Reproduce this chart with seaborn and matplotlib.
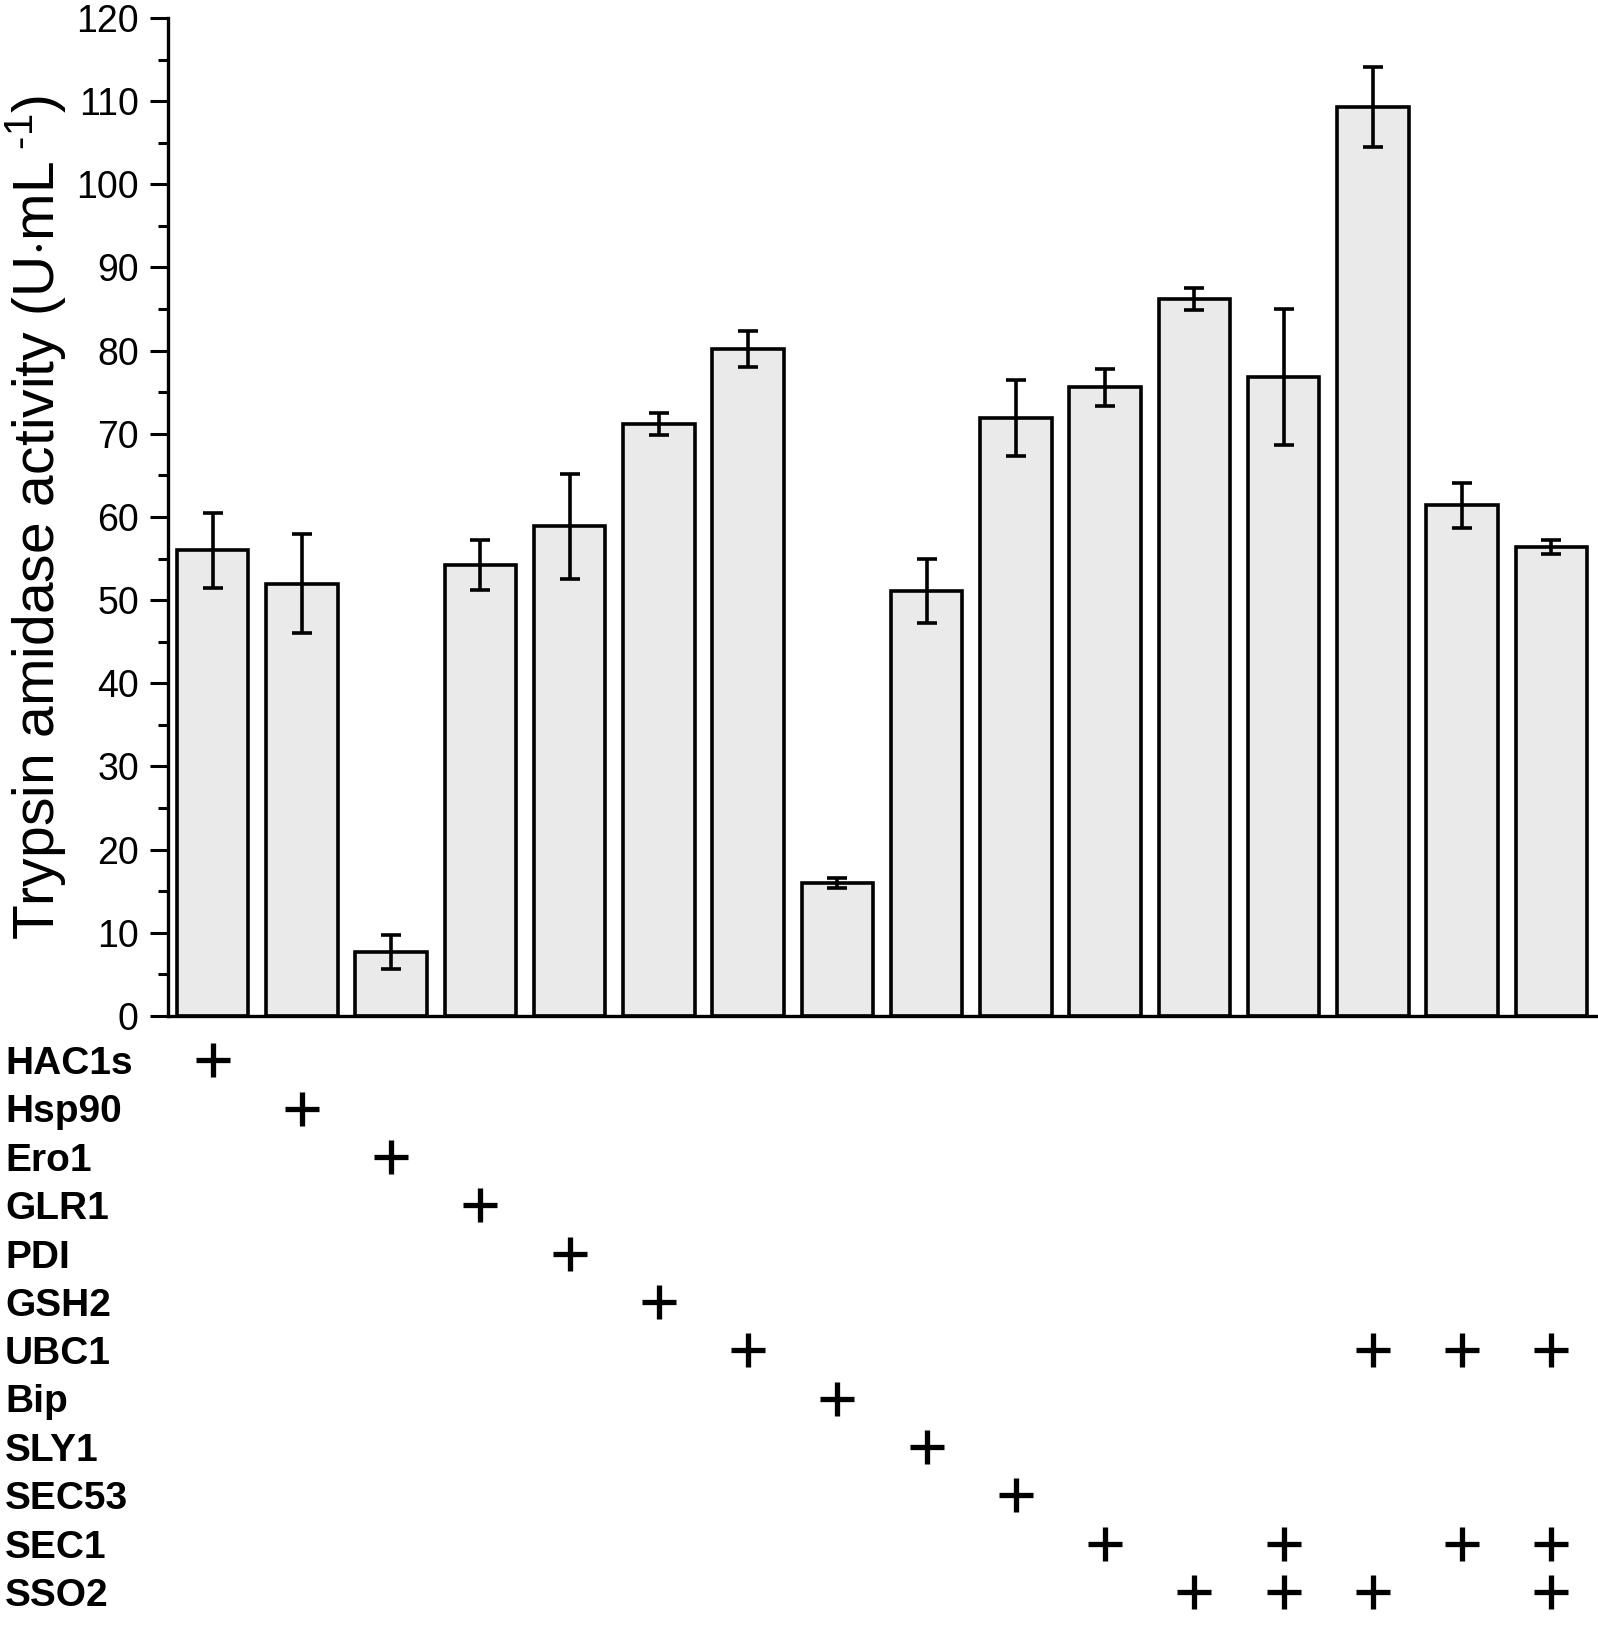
import numpy as np
import pandas as pd
import matplotlib
matplotlib.use('Agg')
import matplotlib.pyplot as plt
import seaborn as sns
from matplotlib.ticker import MultipleLocator

# values
activity = [56.0, 52.0, 7.7, 54.2, 58.9, 71.2, 80.2, 16.0,
            51.1, 71.9, 75.6, 86.2, 76.8, 109.3, 61.4, 56.4]
errors = [4.5, 5.9, 2.0, 3.0, 6.3, 1.3, 2.2, 0.6,
          3.9, 4.6, 2.2, 1.3, 8.2, 4.8, 2.7, 0.8]

genes = ['HAC1s', 'Hsp90', 'Ero1', 'GLR1', 'PDI', 'GSH2', 'UBC1',
         'Bip', 'SLY1', 'SEC53', 'SEC1', 'SSO2']
# which strains (bar index) carry each gene
gene_bars = {
    'HAC1s': [0], 'Hsp90': [1], 'Ero1': [2], 'GLR1': [3], 'PDI': [4],
    'GSH2': [5], 'UBC1': [6, 13, 14, 15], 'Bip': [7], 'SLY1': [8],
    'SEC53': [9], 'SEC1': [10, 12, 14, 15], 'SSO2': [11, 12, 13, 15],
}

sns.set_style('ticks')
plt.rcParams['font.family'] = ['Liberation Sans', 'DejaVu Sans']
plt.rcParams['mathtext.fontset'] = 'custom'
plt.rcParams['mathtext.rm'] = 'Liberation Sans'
plt.rcParams['mathtext.it'] = 'Liberation Sans'
plt.rcParams['text.color'] = 'black'
plt.rcParams['axes.labelcolor'] = 'black'
plt.rcParams['ytick.color'] = 'black'
plt.rcParams['axes.edgecolor'] = 'black'

df = pd.DataFrame({'strain': [str(i) for i in range(len(activity))],
                   'activity': activity, 'err': errors})

W, H = 1598, 1637
fig = plt.figure(figsize=(W / 100, H / 100), dpi=100)
ax = fig.add_axes([168 / W, 1 - 1016 / H, (1596 - 168) / W, (1016 - 18) / H])

sns.barplot(data=df, x='strain', y='activity', color='#eaeaea', saturation=1,
            edgecolor='black', linewidth=2.6, width=0.8, errorbar=None, ax=ax)
ax.errorbar(np.arange(len(activity)), activity, yerr=errors, fmt='none',
            ecolor='black', elinewidth=2.6, capsize=7.5, capthick=2.6)

ax.set_xlim(-0.5, 15.5)
ax.set_ylim(0, 120)
ax.yaxis.set_major_locator(MultipleLocator(10))
ax.yaxis.set_minor_locator(MultipleLocator(5))
ax.tick_params(axis='y', which='major', length=13, width=2.2, labelsize=27, pad=8)
ax.tick_params(axis='y', which='minor', length=7, width=2.2)
ax.tick_params(axis='x', bottom=False, labelbottom=False)
for s in ['top', 'right']:
    ax.spines[s].set_visible(False)
for s in ['left', 'bottom']:
    ax.spines[s].set_linewidth(2.4)
ax.set_xlabel('')
ax.set_ylabel(r'Trypsin amidase activity (U$\cdot$mL$^{\ \text{-1}}$)', fontsize=41, labelpad=6)

# gene table below the bars
tab = fig.add_axes([168 / W, 1 - 1620 / H, (1596 - 168) / W, (1620 - 1040) / H])
tab.set_xlim(-0.5, 15.5)
tab.set_ylim(len(genes) - 0.5, -0.5)
tab.axis('off')
for row, g in enumerate(genes):
    xs = gene_bars[g]
    tab.plot(xs, [row - 0.08] * len(xs), linestyle='none', marker='+',
             markersize=24, markeredgewidth=3.8, color='black')
    y_fig = fig.transFigure.inverted().transform(tab.transData.transform((0, row)))[1]
    fig.text(5 / W, y_fig, g, fontsize=28, fontweight='bold',
             ha='left', va='center', color='black')

fig.savefig('out.png', dpi=100)
